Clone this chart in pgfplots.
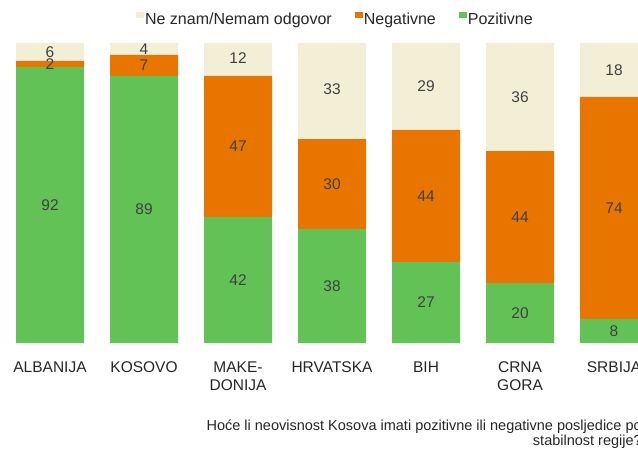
\documentclass[border=0pt]{standalone}
\usepackage{fontspec}
\setmainfont{Liberation Sans}
\usepackage{pgfplots}
\pgfplotsset{compat=1.18}
\definecolor{cpos}{HTML}{63C256}
\definecolor{cneg}{HTML}{E87500}
\definecolor{cdk}{HTML}{F3EFD7}
\definecolor{txt}{HTML}{404040}

\begin{document}
\begin{tikzpicture}
\useasboundingbox (0pt,0pt) rectangle (638pt,448pt);
% picture is cut at the right edge; the strip above the bars hides the 101 % stacks
\clip (0pt,0pt) rectangle (638pt,405pt) (0pt,411pt) rectangle (638pt,448pt);
\begin{axis}[
  at={(0pt,105pt)}, anchor=south west,
  scale only axis, width=638pt, height=300pt,
  ybar stacked, bar width=68pt,
  xmin=-0.532, xmax=6.255, ymin=0, ymax=100,
  clip=false,
  axis line style={draw=none}, ytick=\empty, major tick length=0pt,
  xtick={0,...,6},
  xticklabels={ALBANIJA,KOSOVO,{MAKE-\\DONIJA},HRVATSKA,BIH,{CRNA\\GORA},SRBIJA},
  xticklabel style={align=center, inner sep=0pt, anchor=north, yshift=-18.5pt,
    text=black!85, font=\fontsize{15.5}{18}\selectfont},
  nodes near coords,
  every node near coord/.append style={anchor=center, inner sep=0pt,
    text=txt, font=\fontsize{15.5}{18}\selectfont},
  /pgf/number format/assume math mode=true,
  legend columns=-1,
  reverse legend,
  legend style={draw=none, fill=none, at={(0.525,1.077)}, anchor=center,
    font=\fontsize{16}{18}\selectfont, text=black!85,
    nodes={inner xsep=1pt},
    /tikz/every even column/.append style={column sep=22pt}},
  legend image code/.code={\fill[#1] (0pt,1.5pt) rectangle (8pt,7.5pt);},
]
\addplot[fill=cpos, draw=none] coordinates {(0,92) (1,89) (2,42) (3,38) (4,27) (5,20) (6,8)};
\addplot[fill=cneg, draw=none] coordinates {(0,2) (1,7) (2,47) (3,30) (4,44) (5,44) (6,74)};
\addplot[fill=cdk, draw=none] coordinates {(0,6) (1,4) (2,12) (3,33) (4,29) (5,36) (6,18)};
\legend{Pozitivne,Negativne,Ne znam/Nemam odgovor}
\end{axis}
\node[anchor=north east, align=right, inner sep=0pt, text=black!85,
  font=\fontsize{14.5}{15}\selectfont] at (642pt,28pt)
  {Hoće li neovisnost Kosova imati pozitivne ili negativne posljedice po\\stabilnost regije?};
\end{tikzpicture}
\end{document}
